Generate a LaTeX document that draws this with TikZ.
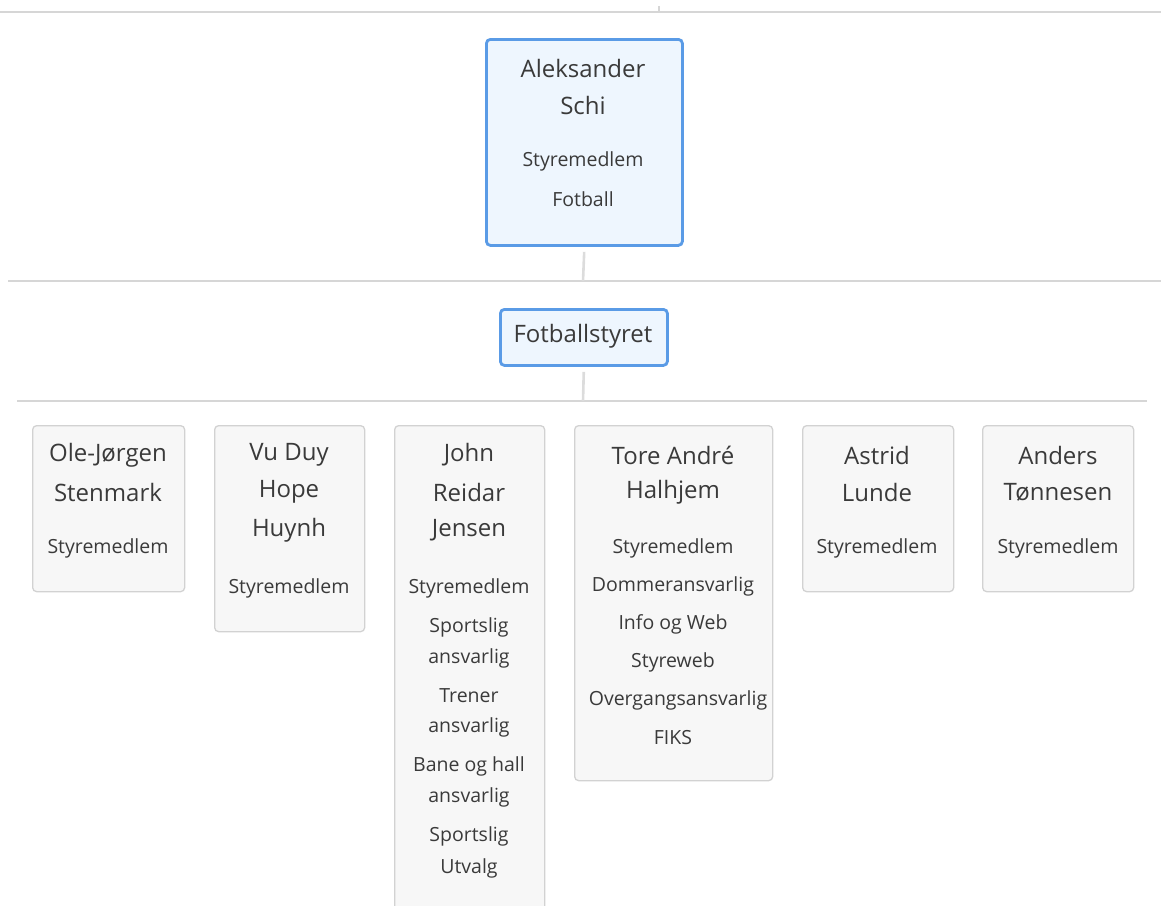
\documentclass[tikz,border=0pt]{standalone}
\usepackage{fontspec}
\setmainfont{Open Sans}
\definecolor{sepgray}{HTML}{D6D6D6}
\definecolor{conngray}{HTML}{DCDCDC}
\definecolor{blueborder}{HTML}{5A9BE6}
\definecolor{bluefill}{HTML}{EEF6FE}
\definecolor{boxborder}{HTML}{D2D2D2}
\definecolor{boxfill}{HTML}{F7F7F7}
\definecolor{txt}{HTML}{3A3A3A}
\tikzset{
  selbox/.style={draw=blueborder, fill=bluefill, line width=2.8pt, rounded corners=4pt, inner sep=0pt, anchor=north west},
  memberbox/.style={draw=boxborder, fill=boxfill, line width=1.3pt, rounded corners=4pt, inner sep=0pt, anchor=north west},
  namet/.style={text=txt, inner sep=0pt, font=\fontsize{24}{28}\selectfont},
  rolet/.style={text=txt, inner sep=0pt, font=\fontsize{19.5}{23}\selectfont},
  sepline/.style={draw=sepgray, line width=1.6pt},
  conn/.style={draw=conngray, line width=2.6pt},
}
\begin{document}
\begin{tikzpicture}[x=1pt,y=-1pt]
\useasboundingbox (0,0) rectangle (1161,905);
\clip (0,0) rectangle (1161,905);
% separator lines
\coordinate (s0a) at (0,12);   \coordinate (s0b) at (1161,12);
\coordinate (s1a) at (8,281);  \coordinate (s1b) at (1161,281);
\coordinate (s2a) at (17,401); \coordinate (s2b) at (1147,401);
\draw[sepline] (s0a) -- (s0b);
\draw[sepline] (s1a) -- (s1b);
\draw[sepline] (s2a) -- (s2b);
% stub above
\coordinate (stubt) at (659,6); \coordinate (stubb) at (659,12);
\draw[draw=sepgray, line width=1.2pt] (stubt) -- (stubb);

% top box
\node[selbox, minimum width=196pt, minimum height=206pt] (top) at (485,38) {};
\node[namet] (topn1) at (583,68) {Aleksander};
\node[namet] (topn2) at (583,105) {Schi};
\node[rolet] (topr1) at (583,161) {Styremedlem};
\node[rolet] (topr2) at (583,199) {Fotball};

% connector to line 1
\coordinate (j1) at (583,281);
\draw[conn, shorten <=5pt] (top.south) -- (j1);

% Fotballstyret
\node[selbox, minimum width=167pt, minimum height=56pt] (fs) at (499,308) {};
\node[namet] (fsn) at (583,336) {Fotballstyret};
\coordinate (j2) at (583,401);
\draw[conn, shorten <=5pt] (fs.south) -- (j2);

% member boxes
\node[memberbox, minimum width=152pt, minimum height=166pt] (m1) at (32,425) {};
\node[memberbox, minimum width=150pt, minimum height=206pt] (m2) at (214,425) {};
\node[memberbox, minimum width=150pt, minimum height=520pt] (m3) at (394,425) {};
\node[memberbox, minimum width=198pt, minimum height=355pt] (m4) at (574,425) {};
\node[memberbox, minimum width=151pt, minimum height=166pt] (m5) at (802,425) {};
\node[memberbox, minimum width=151pt, minimum height=166pt] (m6) at (982,425) {};

% box 1
\node[namet] (m1n1) at (108,455) {Ole-Jørgen};
\node[namet] (m1n2) at (108,492) {Stenmark};
\node[rolet] (m1r1) at (108,548) {Styremedlem};
% box 2
\node[namet] (m2n1) at (289,455) {Vu Duy};
\node[namet] (m2n2) at (289,492) {Hope};
\node[namet] (m2n3) at (289,530) {Huynh};
\node[rolet] (m2r1) at (289,588) {Styremedlem};
% box 3
\node[namet] (m3n1) at (469,455) {John};
\node[namet] (m3n2) at (469,492) {Reidar};
\node[namet] (m3n3) at (469,530) {Jensen};
\node[rolet] (m3r1) at (469,588) {Styremedlem};
\node[rolet] (m3r2) at (469,627) {Sportslig};
\node[rolet] (m3r3) at (469,658) {ansvarlig};
\node[rolet] (m3r4) at (469,696) {Trener};
\node[rolet] (m3r5) at (469,727) {ansvarlig};
\node[rolet] (m3r6) at (469,766) {Bane og hall};
\node[rolet] (m3r7) at (469,797) {ansvarlig};
\node[rolet] (m3r8) at (469,836) {Sportslig};
\node[rolet] (m3r9) at (469,868) {Utvalg};
% box 4
\node[namet] (m4n1) at (673,455) {Tore André};
\node[namet] (m4n2) at (673,492) {Halhjem};
\node[rolet] (m4r1) at (673,548) {Styremedlem};
\node[rolet] (m4r2) at (673,586) {Dommeransvarlig};
\node[rolet] (m4r3) at (673,624) {Info og Web};
\node[rolet] (m4r4) at (673,662) {Styreweb};
\node[rolet] (m4r5) at (678,700) {Overgangsansvarlig};
\node[rolet] (m4r6) at (673,738) {FIKS};
% box 5
\node[namet] (m5n1) at (877,455) {Astrid};
\node[namet] (m5n2) at (877,492) {Lunde};
\node[rolet] (m5r1) at (877,548) {Styremedlem};
% box 6
\node[namet] (m6n1) at (1058,455) {Anders};
\node[namet] (m6n2) at (1058,492) {Tønnesen};
\node[rolet] (m6r1) at (1058,548) {Styremedlem};
\end{tikzpicture}
\end{document}
